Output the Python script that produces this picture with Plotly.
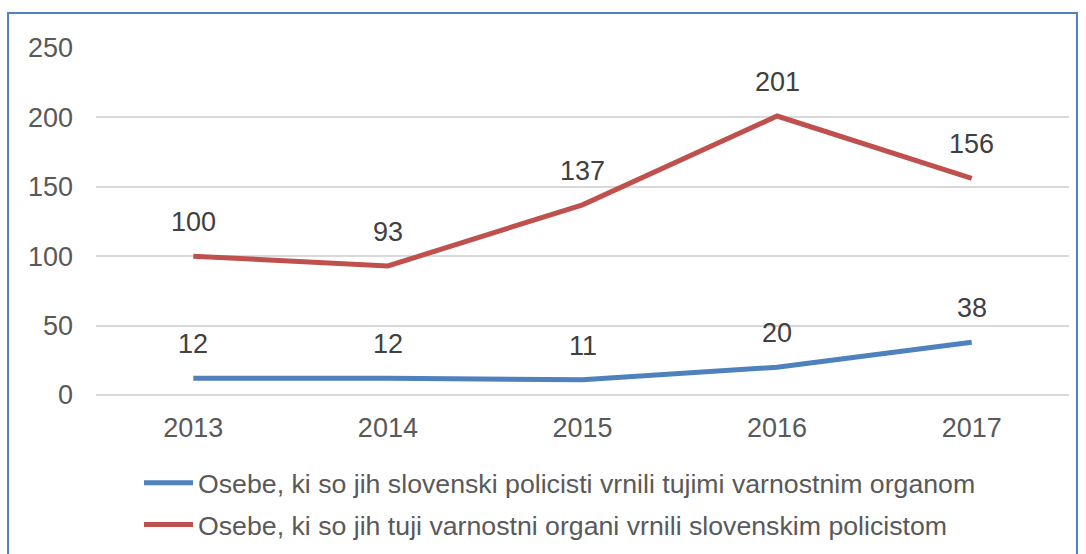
import plotly.graph_objects as go

years = ["2013", "2014", "2015", "2016", "2017"]
returned_by_slovenian = [12, 12, 11, 20, 38]
returned_by_foreign = [100, 93, 137, 201, 156]
name_blue = "Osebe, ki so jih slovenski policisti vrnili tujimi varnostnim organom"
name_red = "Osebe, ki so jih tuji varnostni organi vrnili slovenskim policistom"
y_ticks = [0, 50, 100, 150, 200, 250]

BLUE = "#4F81BD"
RED = "#C0504D"
TXT = "#595959"
FONT = "Liberation Sans, Arial, sans-serif"
FS = 27

fig = go.Figure()
fig.add_trace(go.Scatter(x=years, y=returned_by_slovenian, mode="lines", name=name_blue,
                         legendgroup="a", line=dict(color=BLUE, width=5)))
fig.add_trace(go.Scatter(x=years, y=returned_by_foreign, mode="lines", name=name_red,
                         legendgroup="b", line=dict(color=RED, width=5)))

for series in (returned_by_slovenian, returned_by_foreign):
    for i, v in enumerate(series):
        fig.add_annotation(x=i, y=v, xref="x", yref="y", text=str(v), showarrow=False,
                           yshift=34, font=dict(size=FS, color="#404040", family=FONT))

fig.add_shape(type="rect", xref="paper", yref="paper", x0=-0.0904, x1=1.0082,
              y0=-0.6, y1=1.1009, line=dict(color=BLUE, width=2), fillcolor="rgba(0,0,0,0)",
              layer="below")

fig.update_layout(
    width=1086, height=554,
    margin=dict(l=96, r=17, t=48, b=159),
    paper_bgcolor="white", plot_bgcolor="white",
    font=dict(family=FONT, size=FS, color=TXT),
    showlegend=True,
    legend=dict(orientation="v", x=0.0442, xanchor="left", y=0.1715, yanchor="top",
                yref="container",
                font=dict(size=26.7, color=TXT), tracegroupgap=4, itemwidth=49,
                bgcolor="rgba(0,0,0,0)"),
    xaxis=dict(type="category", range=[-0.5, 4.5], showgrid=False, zeroline=False,
               showline=False, ticks="", ticklabelstandoff=14,
               tickfont=dict(size=FS, color=TXT)),
    yaxis=dict(range=[0, 250], tickvals=y_ticks, showgrid=True, gridcolor="#D9D9D9",
               gridwidth=2, zeroline=True, zerolinecolor="#D9D9D9", zerolinewidth=2,
               showline=False, ticks="", ticklabelstandoff=22,
               tickfont=dict(size=FS, color=TXT)),
)

fig.write_html("out.html", config={"displayModeBar": False},
               post_script="document.body.style.margin='0';")
